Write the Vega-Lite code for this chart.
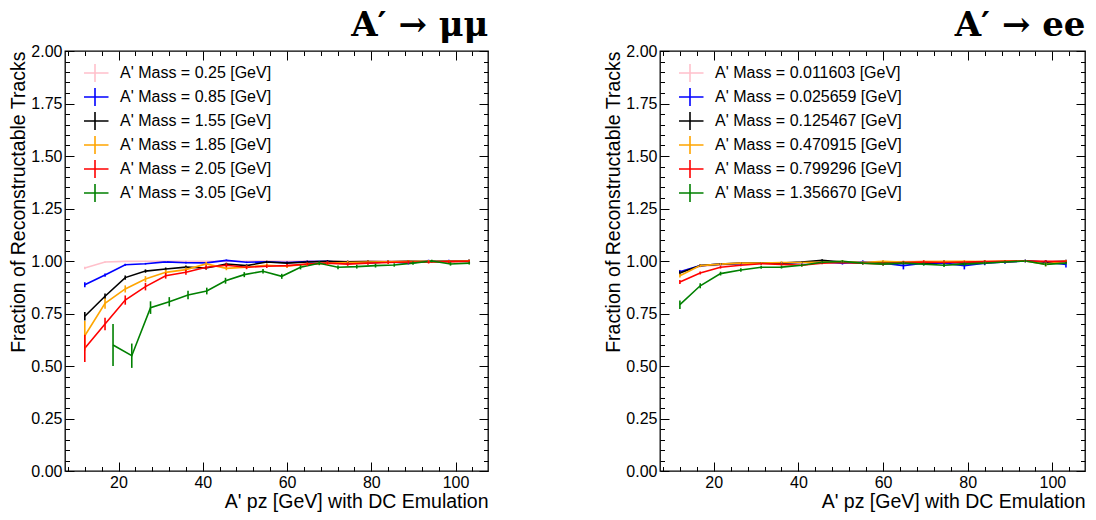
{
  "$schema": "https://vega.github.io/schema/vega-lite/v6.json",
  "background": "white",
  "padding": {"left": 8, "top": 8, "right": 4, "bottom": 4},
  "spacing": 113,
  "resolve": {"scale": {"color": "independent"}, "legend": {"color": "independent"}},
  "config": {
    "font": "Liberation Sans",
    "view": {"stroke": "black", "strokeWidth": 1.3},
    "axis": {"grid": false, "domain": false, "tickColor": "black", "labelColor": "black", "titleColor": "black", "labelFontSize": 16, "titleFontSize": 19.5, "titleFontWeight": "normal", "tickWidth": 1},
    "legend": {"labelFontSize": 16, "labelColor": "black", "labelLimit": 400}
  },
  "datasets": {
    "mumu": [
      {"m": "A' Mass = 0.25 [GeV]", "x": 12, "y": 0.967, "e": 0.006},
      {"m": "A' Mass = 0.25 [GeV]", "x": 16.8, "y": 0.995, "e": 0.003},
      {"m": "A' Mass = 0.25 [GeV]", "x": 21.6, "y": 0.998, "e": 0.002},
      {"m": "A' Mass = 0.25 [GeV]", "x": 26.4, "y": 0.999, "e": 0.002},
      {"m": "A' Mass = 0.25 [GeV]", "x": 31.2, "y": 0.998, "e": 0.002},
      {"m": "A' Mass = 0.25 [GeV]", "x": 36, "y": 0.999, "e": 0.002},
      {"m": "A' Mass = 0.25 [GeV]", "x": 40.8, "y": 0.998, "e": 0.002},
      {"m": "A' Mass = 0.25 [GeV]", "x": 45.6, "y": 0.999, "e": 0.002},
      {"m": "A' Mass = 0.25 [GeV]", "x": 50.4, "y": 0.999, "e": 0.002},
      {"m": "A' Mass = 0.25 [GeV]", "x": 55.2, "y": 1.0, "e": 0.002},
      {"m": "A' Mass = 0.25 [GeV]", "x": 60, "y": 0.999, "e": 0.002},
      {"m": "A' Mass = 0.25 [GeV]", "x": 64.8, "y": 1.0, "e": 0.002},
      {"m": "A' Mass = 0.25 [GeV]", "x": 69.6, "y": 1.0, "e": 0.002},
      {"m": "A' Mass = 0.25 [GeV]", "x": 74.4, "y": 0.999, "e": 0.002},
      {"m": "A' Mass = 0.25 [GeV]", "x": 79.2, "y": 1.0, "e": 0.002},
      {"m": "A' Mass = 0.25 [GeV]", "x": 84, "y": 1.0, "e": 0.002},
      {"m": "A' Mass = 0.25 [GeV]", "x": 88.8, "y": 1.0, "e": 0.002},
      {"m": "A' Mass = 0.25 [GeV]", "x": 93.6, "y": 1.0, "e": 0.002},
      {"m": "A' Mass = 0.25 [GeV]", "x": 98.4, "y": 1.0, "e": 0.002},
      {"m": "A' Mass = 0.25 [GeV]", "x": 103.2, "y": 1.0, "e": 0.002},
      {"m": "A' Mass = 0.85 [GeV]", "x": 12, "y": 0.887, "e": 0.012},
      {"m": "A' Mass = 0.85 [GeV]", "x": 16.8, "y": 0.933, "e": 0.008},
      {"m": "A' Mass = 0.85 [GeV]", "x": 21.6, "y": 0.982, "e": 0.005},
      {"m": "A' Mass = 0.85 [GeV]", "x": 26.4, "y": 0.987, "e": 0.004},
      {"m": "A' Mass = 0.85 [GeV]", "x": 31.2, "y": 0.996, "e": 0.003},
      {"m": "A' Mass = 0.85 [GeV]", "x": 36, "y": 0.992, "e": 0.004},
      {"m": "A' Mass = 0.85 [GeV]", "x": 40.8, "y": 0.991, "e": 0.004},
      {"m": "A' Mass = 0.85 [GeV]", "x": 45.6, "y": 1.003, "e": 0.004},
      {"m": "A' Mass = 0.85 [GeV]", "x": 50.4, "y": 0.994, "e": 0.004},
      {"m": "A' Mass = 0.85 [GeV]", "x": 55.2, "y": 0.996, "e": 0.004},
      {"m": "A' Mass = 0.85 [GeV]", "x": 60, "y": 0.993, "e": 0.005},
      {"m": "A' Mass = 0.85 [GeV]", "x": 64.8, "y": 0.997, "e": 0.005},
      {"m": "A' Mass = 0.85 [GeV]", "x": 69.6, "y": 0.999, "e": 0.005},
      {"m": "A' Mass = 0.85 [GeV]", "x": 74.4, "y": 0.99, "e": 0.006},
      {"m": "A' Mass = 0.85 [GeV]", "x": 79.2, "y": 0.99, "e": 0.006},
      {"m": "A' Mass = 0.85 [GeV]", "x": 84, "y": 0.997, "e": 0.006},
      {"m": "A' Mass = 0.85 [GeV]", "x": 88.8, "y": 0.99, "e": 0.006},
      {"m": "A' Mass = 0.85 [GeV]", "x": 93.6, "y": 1.0, "e": 0.006},
      {"m": "A' Mass = 0.85 [GeV]", "x": 98.4, "y": 0.999, "e": 0.007},
      {"m": "A' Mass = 0.85 [GeV]", "x": 103.2, "y": 1.0, "e": 0.007},
      {"m": "A' Mass = 1.55 [GeV]", "x": 12, "y": 0.737, "e": 0.02},
      {"m": "A' Mass = 1.55 [GeV]", "x": 16.8, "y": 0.832, "e": 0.013},
      {"m": "A' Mass = 1.55 [GeV]", "x": 21.6, "y": 0.921, "e": 0.01},
      {"m": "A' Mass = 1.55 [GeV]", "x": 26.4, "y": 0.952, "e": 0.008},
      {"m": "A' Mass = 1.55 [GeV]", "x": 31.2, "y": 0.962, "e": 0.007},
      {"m": "A' Mass = 1.55 [GeV]", "x": 36, "y": 0.971, "e": 0.007},
      {"m": "A' Mass = 1.55 [GeV]", "x": 40.8, "y": 0.967, "e": 0.007},
      {"m": "A' Mass = 1.55 [GeV]", "x": 45.6, "y": 0.986, "e": 0.006},
      {"m": "A' Mass = 1.55 [GeV]", "x": 50.4, "y": 0.978, "e": 0.006},
      {"m": "A' Mass = 1.55 [GeV]", "x": 55.2, "y": 0.995, "e": 0.006},
      {"m": "A' Mass = 1.55 [GeV]", "x": 60, "y": 0.99, "e": 0.006},
      {"m": "A' Mass = 1.55 [GeV]", "x": 64.8, "y": 0.995, "e": 0.006},
      {"m": "A' Mass = 1.55 [GeV]", "x": 69.6, "y": 0.998, "e": 0.006},
      {"m": "A' Mass = 1.55 [GeV]", "x": 74.4, "y": 0.996, "e": 0.006},
      {"m": "A' Mass = 1.55 [GeV]", "x": 79.2, "y": 0.997, "e": 0.006},
      {"m": "A' Mass = 1.55 [GeV]", "x": 84, "y": 0.996, "e": 0.006},
      {"m": "A' Mass = 1.55 [GeV]", "x": 88.8, "y": 0.998, "e": 0.006},
      {"m": "A' Mass = 1.55 [GeV]", "x": 93.6, "y": 0.997, "e": 0.006},
      {"m": "A' Mass = 1.55 [GeV]", "x": 98.4, "y": 0.998, "e": 0.006},
      {"m": "A' Mass = 1.55 [GeV]", "x": 103.2, "y": 1.0, "e": 0.006},
      {"m": "A' Mass = 1.85 [GeV]", "x": 12, "y": 0.644, "e": 0.07},
      {"m": "A' Mass = 1.85 [GeV]", "x": 16.8, "y": 0.798, "e": 0.025},
      {"m": "A' Mass = 1.85 [GeV]", "x": 21.6, "y": 0.867, "e": 0.017},
      {"m": "A' Mass = 1.85 [GeV]", "x": 26.4, "y": 0.914, "e": 0.014},
      {"m": "A' Mass = 1.85 [GeV]", "x": 31.2, "y": 0.946, "e": 0.012},
      {"m": "A' Mass = 1.85 [GeV]", "x": 36, "y": 0.959, "e": 0.01},
      {"m": "A' Mass = 1.85 [GeV]", "x": 40.8, "y": 0.986, "e": 0.009},
      {"m": "A' Mass = 1.85 [GeV]", "x": 45.6, "y": 0.965, "e": 0.009},
      {"m": "A' Mass = 1.85 [GeV]", "x": 50.4, "y": 0.971, "e": 0.008},
      {"m": "A' Mass = 1.85 [GeV]", "x": 55.2, "y": 0.98, "e": 0.008},
      {"m": "A' Mass = 1.85 [GeV]", "x": 60, "y": 0.975, "e": 0.008},
      {"m": "A' Mass = 1.85 [GeV]", "x": 64.8, "y": 0.985, "e": 0.007},
      {"m": "A' Mass = 1.85 [GeV]", "x": 69.6, "y": 0.99, "e": 0.007},
      {"m": "A' Mass = 1.85 [GeV]", "x": 74.4, "y": 0.993, "e": 0.007},
      {"m": "A' Mass = 1.85 [GeV]", "x": 79.2, "y": 0.995, "e": 0.007},
      {"m": "A' Mass = 1.85 [GeV]", "x": 84, "y": 0.996, "e": 0.007},
      {"m": "A' Mass = 1.85 [GeV]", "x": 88.8, "y": 0.997, "e": 0.007},
      {"m": "A' Mass = 1.85 [GeV]", "x": 93.6, "y": 0.998, "e": 0.007},
      {"m": "A' Mass = 1.85 [GeV]", "x": 98.4, "y": 0.998, "e": 0.007},
      {"m": "A' Mass = 1.85 [GeV]", "x": 103.2, "y": 1.0, "e": 0.007},
      {"m": "A' Mass = 2.05 [GeV]", "x": 12, "y": 0.584, "e": 0.065},
      {"m": "A' Mass = 2.05 [GeV]", "x": 16.8, "y": 0.70, "e": 0.03},
      {"m": "A' Mass = 2.05 [GeV]", "x": 21.6, "y": 0.814, "e": 0.022},
      {"m": "A' Mass = 2.05 [GeV]", "x": 26.4, "y": 0.878, "e": 0.018},
      {"m": "A' Mass = 2.05 [GeV]", "x": 31.2, "y": 0.93, "e": 0.014},
      {"m": "A' Mass = 2.05 [GeV]", "x": 36, "y": 0.946, "e": 0.012},
      {"m": "A' Mass = 2.05 [GeV]", "x": 40.8, "y": 0.97, "e": 0.01},
      {"m": "A' Mass = 2.05 [GeV]", "x": 45.6, "y": 0.98, "e": 0.01},
      {"m": "A' Mass = 2.05 [GeV]", "x": 50.4, "y": 0.97, "e": 0.009},
      {"m": "A' Mass = 2.05 [GeV]", "x": 55.2, "y": 0.975, "e": 0.008},
      {"m": "A' Mass = 2.05 [GeV]", "x": 60, "y": 0.978, "e": 0.008},
      {"m": "A' Mass = 2.05 [GeV]", "x": 64.8, "y": 0.985, "e": 0.008},
      {"m": "A' Mass = 2.05 [GeV]", "x": 69.6, "y": 0.99, "e": 0.008},
      {"m": "A' Mass = 2.05 [GeV]", "x": 74.4, "y": 0.985, "e": 0.008},
      {"m": "A' Mass = 2.05 [GeV]", "x": 79.2, "y": 0.99, "e": 0.008},
      {"m": "A' Mass = 2.05 [GeV]", "x": 84, "y": 0.993, "e": 0.007},
      {"m": "A' Mass = 2.05 [GeV]", "x": 88.8, "y": 0.995, "e": 0.007},
      {"m": "A' Mass = 2.05 [GeV]", "x": 93.6, "y": 0.995, "e": 0.007},
      {"m": "A' Mass = 2.05 [GeV]", "x": 98.4, "y": 0.997, "e": 0.007},
      {"m": "A' Mass = 2.05 [GeV]", "x": 103.2, "y": 0.998, "e": 0.007},
      {"m": "A' Mass = 3.05 [GeV]", "x": 18.7, "y": 0.60, "e": 0.1},
      {"m": "A' Mass = 3.05 [GeV]", "x": 23.15, "y": 0.549, "e": 0.058},
      {"m": "A' Mass = 3.05 [GeV]", "x": 27.6, "y": 0.778, "e": 0.03},
      {"m": "A' Mass = 3.05 [GeV]", "x": 32.05, "y": 0.806, "e": 0.022},
      {"m": "A' Mass = 3.05 [GeV]", "x": 36.5, "y": 0.838, "e": 0.02},
      {"m": "A' Mass = 3.05 [GeV]", "x": 40.95, "y": 0.857, "e": 0.016},
      {"m": "A' Mass = 3.05 [GeV]", "x": 45.4, "y": 0.906, "e": 0.014},
      {"m": "A' Mass = 3.05 [GeV]", "x": 49.85, "y": 0.935, "e": 0.012},
      {"m": "A' Mass = 3.05 [GeV]", "x": 54.3, "y": 0.951, "e": 0.011},
      {"m": "A' Mass = 3.05 [GeV]", "x": 58.75, "y": 0.927, "e": 0.012},
      {"m": "A' Mass = 3.05 [GeV]", "x": 63.2, "y": 0.97, "e": 0.01},
      {"m": "A' Mass = 3.05 [GeV]", "x": 67.65, "y": 0.989, "e": 0.009},
      {"m": "A' Mass = 3.05 [GeV]", "x": 72.1, "y": 0.97, "e": 0.009},
      {"m": "A' Mass = 3.05 [GeV]", "x": 76.55, "y": 0.973, "e": 0.009},
      {"m": "A' Mass = 3.05 [GeV]", "x": 81.0, "y": 0.978, "e": 0.009},
      {"m": "A' Mass = 3.05 [GeV]", "x": 85.45, "y": 0.981, "e": 0.008},
      {"m": "A' Mass = 3.05 [GeV]", "x": 89.9, "y": 0.99, "e": 0.008},
      {"m": "A' Mass = 3.05 [GeV]", "x": 94.35, "y": 1.0, "e": 0.006},
      {"m": "A' Mass = 3.05 [GeV]", "x": 98.8, "y": 0.986, "e": 0.008},
      {"m": "A' Mass = 3.05 [GeV]", "x": 103.25, "y": 0.99, "e": 0.007}
    ],
    "ee": [
      {"m": "A' Mass = 0.011603 [GeV]", "x": 12, "y": 0.95, "e": 0.008},
      {"m": "A' Mass = 0.011603 [GeV]", "x": 16.8, "y": 0.975, "e": 0.006},
      {"m": "A' Mass = 0.011603 [GeV]", "x": 21.6, "y": 0.98, "e": 0.005},
      {"m": "A' Mass = 0.011603 [GeV]", "x": 26.4, "y": 0.985, "e": 0.005},
      {"m": "A' Mass = 0.011603 [GeV]", "x": 31.2, "y": 0.99, "e": 0.005},
      {"m": "A' Mass = 0.011603 [GeV]", "x": 36, "y": 0.99, "e": 0.005},
      {"m": "A' Mass = 0.011603 [GeV]", "x": 40.8, "y": 0.992, "e": 0.005},
      {"m": "A' Mass = 0.011603 [GeV]", "x": 45.6, "y": 0.995, "e": 0.005},
      {"m": "A' Mass = 0.011603 [GeV]", "x": 50.4, "y": 0.993, "e": 0.005},
      {"m": "A' Mass = 0.011603 [GeV]", "x": 55.2, "y": 0.995, "e": 0.006},
      {"m": "A' Mass = 0.011603 [GeV]", "x": 60, "y": 0.995, "e": 0.006},
      {"m": "A' Mass = 0.011603 [GeV]", "x": 64.8, "y": 0.997, "e": 0.006},
      {"m": "A' Mass = 0.011603 [GeV]", "x": 69.6, "y": 0.998, "e": 0.006},
      {"m": "A' Mass = 0.011603 [GeV]", "x": 74.4, "y": 0.995, "e": 0.007},
      {"m": "A' Mass = 0.011603 [GeV]", "x": 79.2, "y": 0.996, "e": 0.007},
      {"m": "A' Mass = 0.011603 [GeV]", "x": 84, "y": 0.99, "e": 0.01},
      {"m": "A' Mass = 0.011603 [GeV]", "x": 88.8, "y": 0.998, "e": 0.007},
      {"m": "A' Mass = 0.011603 [GeV]", "x": 93.6, "y": 1.0, "e": 0.006},
      {"m": "A' Mass = 0.011603 [GeV]", "x": 98.4, "y": 0.985, "e": 0.012},
      {"m": "A' Mass = 0.011603 [GeV]", "x": 103.2, "y": 0.998, "e": 0.008},
      {"m": "A' Mass = 0.025659 [GeV]", "x": 12, "y": 0.949, "e": 0.008},
      {"m": "A' Mass = 0.025659 [GeV]", "x": 16.8, "y": 0.978, "e": 0.006},
      {"m": "A' Mass = 0.025659 [GeV]", "x": 21.6, "y": 0.985, "e": 0.005},
      {"m": "A' Mass = 0.025659 [GeV]", "x": 26.4, "y": 0.987, "e": 0.005},
      {"m": "A' Mass = 0.025659 [GeV]", "x": 31.2, "y": 0.99, "e": 0.005},
      {"m": "A' Mass = 0.025659 [GeV]", "x": 36, "y": 0.99, "e": 0.006},
      {"m": "A' Mass = 0.025659 [GeV]", "x": 40.8, "y": 0.993, "e": 0.006},
      {"m": "A' Mass = 0.025659 [GeV]", "x": 45.6, "y": 0.995, "e": 0.006},
      {"m": "A' Mass = 0.025659 [GeV]", "x": 50.4, "y": 0.99, "e": 0.007},
      {"m": "A' Mass = 0.025659 [GeV]", "x": 55.2, "y": 0.995, "e": 0.008},
      {"m": "A' Mass = 0.025659 [GeV]", "x": 60, "y": 0.99, "e": 0.01},
      {"m": "A' Mass = 0.025659 [GeV]", "x": 64.8, "y": 0.978, "e": 0.018},
      {"m": "A' Mass = 0.025659 [GeV]", "x": 69.6, "y": 0.99, "e": 0.01},
      {"m": "A' Mass = 0.025659 [GeV]", "x": 74.4, "y": 0.99, "e": 0.012},
      {"m": "A' Mass = 0.025659 [GeV]", "x": 79.2, "y": 0.978, "e": 0.018},
      {"m": "A' Mass = 0.025659 [GeV]", "x": 84, "y": 0.99, "e": 0.01},
      {"m": "A' Mass = 0.025659 [GeV]", "x": 88.8, "y": 0.995, "e": 0.008},
      {"m": "A' Mass = 0.025659 [GeV]", "x": 93.6, "y": 1.0, "e": 0.006},
      {"m": "A' Mass = 0.025659 [GeV]", "x": 98.4, "y": 0.995, "e": 0.008},
      {"m": "A' Mass = 0.025659 [GeV]", "x": 103.2, "y": 0.984, "e": 0.015},
      {"m": "A' Mass = 0.125467 [GeV]", "x": 12, "y": 0.943, "e": 0.008},
      {"m": "A' Mass = 0.125467 [GeV]", "x": 16.8, "y": 0.978, "e": 0.006},
      {"m": "A' Mass = 0.125467 [GeV]", "x": 21.6, "y": 0.985, "e": 0.005},
      {"m": "A' Mass = 0.125467 [GeV]", "x": 26.4, "y": 0.99, "e": 0.005},
      {"m": "A' Mass = 0.125467 [GeV]", "x": 31.2, "y": 0.99, "e": 0.005},
      {"m": "A' Mass = 0.125467 [GeV]", "x": 36, "y": 0.99, "e": 0.005},
      {"m": "A' Mass = 0.125467 [GeV]", "x": 40.8, "y": 0.995, "e": 0.005},
      {"m": "A' Mass = 0.125467 [GeV]", "x": 45.6, "y": 1.003, "e": 0.005},
      {"m": "A' Mass = 0.125467 [GeV]", "x": 50.4, "y": 0.995, "e": 0.006},
      {"m": "A' Mass = 0.125467 [GeV]", "x": 55.2, "y": 0.99, "e": 0.006},
      {"m": "A' Mass = 0.125467 [GeV]", "x": 60, "y": 0.995, "e": 0.006},
      {"m": "A' Mass = 0.125467 [GeV]", "x": 64.8, "y": 0.993, "e": 0.007},
      {"m": "A' Mass = 0.125467 [GeV]", "x": 69.6, "y": 0.99, "e": 0.007},
      {"m": "A' Mass = 0.125467 [GeV]", "x": 74.4, "y": 0.995, "e": 0.007},
      {"m": "A' Mass = 0.125467 [GeV]", "x": 79.2, "y": 0.99, "e": 0.008},
      {"m": "A' Mass = 0.125467 [GeV]", "x": 84, "y": 0.995, "e": 0.008},
      {"m": "A' Mass = 0.125467 [GeV]", "x": 88.8, "y": 0.997, "e": 0.007},
      {"m": "A' Mass = 0.125467 [GeV]", "x": 93.6, "y": 1.0, "e": 0.006},
      {"m": "A' Mass = 0.125467 [GeV]", "x": 98.4, "y": 0.995, "e": 0.008},
      {"m": "A' Mass = 0.125467 [GeV]", "x": 103.2, "y": 0.998, "e": 0.008},
      {"m": "A' Mass = 0.470915 [GeV]", "x": 12, "y": 0.93, "e": 0.009},
      {"m": "A' Mass = 0.470915 [GeV]", "x": 16.8, "y": 0.978, "e": 0.006},
      {"m": "A' Mass = 0.470915 [GeV]", "x": 21.6, "y": 0.985, "e": 0.005},
      {"m": "A' Mass = 0.470915 [GeV]", "x": 26.4, "y": 0.99, "e": 0.005},
      {"m": "A' Mass = 0.470915 [GeV]", "x": 31.2, "y": 0.99, "e": 0.005},
      {"m": "A' Mass = 0.470915 [GeV]", "x": 36, "y": 0.993, "e": 0.005},
      {"m": "A' Mass = 0.470915 [GeV]", "x": 40.8, "y": 0.993, "e": 0.005},
      {"m": "A' Mass = 0.470915 [GeV]", "x": 45.6, "y": 0.995, "e": 0.005},
      {"m": "A' Mass = 0.470915 [GeV]", "x": 50.4, "y": 0.997, "e": 0.005},
      {"m": "A' Mass = 0.470915 [GeV]", "x": 55.2, "y": 0.993, "e": 0.006},
      {"m": "A' Mass = 0.470915 [GeV]", "x": 60, "y": 0.998, "e": 0.006},
      {"m": "A' Mass = 0.470915 [GeV]", "x": 64.8, "y": 0.995, "e": 0.006},
      {"m": "A' Mass = 0.470915 [GeV]", "x": 69.6, "y": 0.997, "e": 0.006},
      {"m": "A' Mass = 0.470915 [GeV]", "x": 74.4, "y": 0.998, "e": 0.006},
      {"m": "A' Mass = 0.470915 [GeV]", "x": 79.2, "y": 0.998, "e": 0.006},
      {"m": "A' Mass = 0.470915 [GeV]", "x": 84, "y": 0.997, "e": 0.006},
      {"m": "A' Mass = 0.470915 [GeV]", "x": 88.8, "y": 1.0, "e": 0.005},
      {"m": "A' Mass = 0.470915 [GeV]", "x": 93.6, "y": 1.0, "e": 0.005},
      {"m": "A' Mass = 0.470915 [GeV]", "x": 98.4, "y": 0.985, "e": 0.01},
      {"m": "A' Mass = 0.470915 [GeV]", "x": 103.2, "y": 1.0, "e": 0.005},
      {"m": "A' Mass = 0.799296 [GeV]", "x": 12, "y": 0.90, "e": 0.01},
      {"m": "A' Mass = 0.799296 [GeV]", "x": 16.8, "y": 0.943, "e": 0.007},
      {"m": "A' Mass = 0.799296 [GeV]", "x": 21.6, "y": 0.97, "e": 0.006},
      {"m": "A' Mass = 0.799296 [GeV]", "x": 26.4, "y": 0.98, "e": 0.005},
      {"m": "A' Mass = 0.799296 [GeV]", "x": 31.2, "y": 0.987, "e": 0.005},
      {"m": "A' Mass = 0.799296 [GeV]", "x": 36, "y": 0.984, "e": 0.005},
      {"m": "A' Mass = 0.799296 [GeV]", "x": 40.8, "y": 0.98, "e": 0.006},
      {"m": "A' Mass = 0.799296 [GeV]", "x": 45.6, "y": 0.99, "e": 0.006},
      {"m": "A' Mass = 0.799296 [GeV]", "x": 50.4, "y": 0.993, "e": 0.006},
      {"m": "A' Mass = 0.799296 [GeV]", "x": 55.2, "y": 0.99, "e": 0.006},
      {"m": "A' Mass = 0.799296 [GeV]", "x": 60, "y": 0.986, "e": 0.008},
      {"m": "A' Mass = 0.799296 [GeV]", "x": 64.8, "y": 0.993, "e": 0.006},
      {"m": "A' Mass = 0.799296 [GeV]", "x": 69.6, "y": 0.995, "e": 0.008},
      {"m": "A' Mass = 0.799296 [GeV]", "x": 74.4, "y": 0.993, "e": 0.006},
      {"m": "A' Mass = 0.799296 [GeV]", "x": 79.2, "y": 0.995, "e": 0.006},
      {"m": "A' Mass = 0.799296 [GeV]", "x": 84, "y": 0.997, "e": 0.006},
      {"m": "A' Mass = 0.799296 [GeV]", "x": 88.8, "y": 0.998, "e": 0.006},
      {"m": "A' Mass = 0.799296 [GeV]", "x": 93.6, "y": 1.0, "e": 0.005},
      {"m": "A' Mass = 0.799296 [GeV]", "x": 98.4, "y": 0.998, "e": 0.006},
      {"m": "A' Mass = 0.799296 [GeV]", "x": 103.2, "y": 0.998, "e": 0.006},
      {"m": "A' Mass = 1.356670 [GeV]", "x": 12, "y": 0.792, "e": 0.02},
      {"m": "A' Mass = 1.356670 [GeV]", "x": 16.8, "y": 0.882, "e": 0.012},
      {"m": "A' Mass = 1.356670 [GeV]", "x": 21.6, "y": 0.94, "e": 0.009},
      {"m": "A' Mass = 1.356670 [GeV]", "x": 26.4, "y": 0.957, "e": 0.008},
      {"m": "A' Mass = 1.356670 [GeV]", "x": 31.2, "y": 0.97, "e": 0.007},
      {"m": "A' Mass = 1.356670 [GeV]", "x": 36, "y": 0.971, "e": 0.007},
      {"m": "A' Mass = 1.356670 [GeV]", "x": 40.8, "y": 0.98, "e": 0.006},
      {"m": "A' Mass = 1.356670 [GeV]", "x": 45.6, "y": 0.994, "e": 0.006},
      {"m": "A' Mass = 1.356670 [GeV]", "x": 50.4, "y": 0.998, "e": 0.006},
      {"m": "A' Mass = 1.356670 [GeV]", "x": 55.2, "y": 0.99, "e": 0.006},
      {"m": "A' Mass = 1.356670 [GeV]", "x": 60, "y": 0.985, "e": 0.007},
      {"m": "A' Mass = 1.356670 [GeV]", "x": 64.8, "y": 0.99, "e": 0.007},
      {"m": "A' Mass = 1.356670 [GeV]", "x": 69.6, "y": 0.985, "e": 0.007},
      {"m": "A' Mass = 1.356670 [GeV]", "x": 74.4, "y": 0.98, "e": 0.009},
      {"m": "A' Mass = 1.356670 [GeV]", "x": 79.2, "y": 0.985, "e": 0.008},
      {"m": "A' Mass = 1.356670 [GeV]", "x": 84, "y": 0.99, "e": 0.007},
      {"m": "A' Mass = 1.356670 [GeV]", "x": 88.8, "y": 0.995, "e": 0.006},
      {"m": "A' Mass = 1.356670 [GeV]", "x": 93.6, "y": 1.0, "e": 0.005},
      {"m": "A' Mass = 1.356670 [GeV]", "x": 98.4, "y": 0.984, "e": 0.009},
      {"m": "A' Mass = 1.356670 [GeV]", "x": 103.2, "y": 0.99, "e": 0.007}
    ]
  },
  "hconcat": [
    {
      "width": 423,
      "height": 420,
      "title": {"text": "A′ → μμ", "anchor": "end", "font": "DejaVu Serif", "fontSize": 34, "fontWeight": "bold", "color": "black", "offset": 0},
      "data": {"name": "mumu"},
      "layer": [
        {
          "mark": {"type": "line", "strokeWidth": 1.6},
          "encoding": {
            "x": {"field": "x", "type": "quantitative", "scale": {"domain": [7.3, 107.7], "nice": false, "zero": false},
              "axis": {"orient": "bottom", "values": [8,12,16,20,24,28,32,36,40,44,48,52,56,60,64,68,72,76,80,84,88,92,96,100,104], "labelExpr": "datum.value % 20 === 0 ? datum.label : ''", "tickSize": {"condition": {"test": "datum.value % 20 === 0", "value": -9}, "value": -4.5}, "labelPadding": 12, "title": "A' pz [GeV] with DC Emulation", "titleAnchor": "end", "titlePadding": 2}},
            "y": {"field": "y", "type": "quantitative", "scale": {"domain": [0, 2], "nice": false},
              "axis": {"orient": "left", "values": [0,0.05,0.1,0.15,0.2,0.25,0.3,0.35,0.4,0.45,0.5,0.55,0.6,0.65,0.7,0.75,0.8,0.85,0.9,0.95,1,1.05,1.1,1.15,1.2,1.25,1.3,1.35,1.4,1.45,1.5,1.55,1.6,1.65,1.7,1.75,1.8,1.85,1.9,1.95,2], "format": ".2f", "labelExpr": "abs(datum.value*4 - round(datum.value*4)) < 0.001 ? datum.label : ''", "tickSize": {"condition": {"test": "abs(datum.value*4 - round(datum.value*4)) < 0.001", "value": -9}, "value": -4.5}, "labelPadding": 12, "title": "Fraction of Reconstructable Tracks", "titleAnchor": "end", "titlePadding": 2}},
            "color": {"field": "m", "type": "nominal", "title": null,
              "scale": {"domain": ["A' Mass = 0.25 [GeV]", "A' Mass = 0.85 [GeV]", "A' Mass = 1.55 [GeV]", "A' Mass = 1.85 [GeV]", "A' Mass = 2.05 [GeV]", "A' Mass = 3.05 [GeV]"], "range": ["#FFC0CB", "#0000FF", "#000000", "#FFA500", "#FF0000", "#008000"]},
              "legend": {"orient": "none", "legendX": 19, "legendY": 10.5, "symbolType": "M-1.35,0H1.35M0,-0.9V0.9", "symbolSize": 400, "symbolStrokeWidth": 1.6, "symbolFillColor": "transparent", "labelOffset": 14, "rowPadding": 0, "clipHeight": 23.1, "padding": 0}}
          }
        },
        {
          "mark": {"type": "errorbar", "thickness": 1.6},
          "encoding": {
            "x": {"field": "x", "type": "quantitative", "scale": {"domain": [7.3, 107.7], "nice": false, "zero": false},
              "axis": {"orient": "top", "values": [8,12,16,20,24,28,32,36,40,44,48,52,56,60,64,68,72,76,80,84,88,92,96,100,104], "labels": false, "tickSize": {"condition": {"test": "datum.value % 20 === 0", "value": -9}, "value": -4.5}, "title": null}},
            "y": {"field": "y", "type": "quantitative", "scale": {"domain": [0, 2], "nice": false},
              "axis": {"orient": "right", "values": [0,0.05,0.1,0.15,0.2,0.25,0.3,0.35,0.4,0.45,0.5,0.55,0.6,0.65,0.7,0.75,0.8,0.85,0.9,0.95,1,1.05,1.1,1.15,1.2,1.25,1.3,1.35,1.4,1.45,1.5,1.55,1.6,1.65,1.7,1.75,1.8,1.85,1.9,1.95,2], "labels": false, "tickSize": {"condition": {"test": "abs(datum.value*4 - round(datum.value*4)) < 0.001", "value": -9}, "value": -4.5}, "title": null}},
            "yError": {"field": "e"},
            "color": {"field": "m", "type": "nominal"}
          }
        }
      ],
      "resolve": {"axis": {"x": "independent", "y": "independent"}}
    },
    {
      "width": 425,
      "height": 420,
      "title": {"text": "A′ → ee", "anchor": "end", "font": "DejaVu Serif", "fontSize": 34, "fontWeight": "bold", "color": "black", "offset": 0},
      "data": {"name": "ee"},
      "layer": [
        {
          "mark": {"type": "line", "strokeWidth": 1.6},
          "encoding": {
            "x": {"field": "x", "type": "quantitative", "scale": {"domain": [7.3, 107.7], "nice": false, "zero": false},
              "axis": {"orient": "bottom", "values": [8,12,16,20,24,28,32,36,40,44,48,52,56,60,64,68,72,76,80,84,88,92,96,100,104], "labelExpr": "datum.value % 20 === 0 ? datum.label : ''", "tickSize": {"condition": {"test": "datum.value % 20 === 0", "value": -9}, "value": -4.5}, "labelPadding": 12, "title": "A' pz [GeV] with DC Emulation", "titleAnchor": "end", "titlePadding": 2}},
            "y": {"field": "y", "type": "quantitative", "scale": {"domain": [0, 2], "nice": false},
              "axis": {"orient": "left", "values": [0,0.05,0.1,0.15,0.2,0.25,0.3,0.35,0.4,0.45,0.5,0.55,0.6,0.65,0.7,0.75,0.8,0.85,0.9,0.95,1,1.05,1.1,1.15,1.2,1.25,1.3,1.35,1.4,1.45,1.5,1.55,1.6,1.65,1.7,1.75,1.8,1.85,1.9,1.95,2], "format": ".2f", "labelExpr": "abs(datum.value*4 - round(datum.value*4)) < 0.001 ? datum.label : ''", "tickSize": {"condition": {"test": "abs(datum.value*4 - round(datum.value*4)) < 0.001", "value": -9}, "value": -4.5}, "labelPadding": 12, "title": "Fraction of Reconstructable Tracks", "titleAnchor": "end", "titlePadding": 2}},
            "color": {"field": "m", "type": "nominal", "title": null,
              "scale": {"domain": ["A' Mass = 0.011603 [GeV]", "A' Mass = 0.025659 [GeV]", "A' Mass = 0.125467 [GeV]", "A' Mass = 0.470915 [GeV]", "A' Mass = 0.799296 [GeV]", "A' Mass = 1.356670 [GeV]"], "range": ["#FFC0CB", "#0000FF", "#000000", "#FFA500", "#FF0000", "#008000"]},
              "legend": {"orient": "none", "legendX": 19, "legendY": 10.5, "symbolType": "M-1.35,0H1.35M0,-0.9V0.9", "symbolSize": 400, "symbolStrokeWidth": 1.6, "symbolFillColor": "transparent", "labelOffset": 14, "rowPadding": 0, "clipHeight": 23.1, "padding": 0}}
          }
        },
        {
          "mark": {"type": "errorbar", "thickness": 1.6},
          "encoding": {
            "x": {"field": "x", "type": "quantitative", "scale": {"domain": [7.3, 107.7], "nice": false, "zero": false},
              "axis": {"orient": "top", "values": [8,12,16,20,24,28,32,36,40,44,48,52,56,60,64,68,72,76,80,84,88,92,96,100,104], "labels": false, "tickSize": {"condition": {"test": "datum.value % 20 === 0", "value": -9}, "value": -4.5}, "title": null}},
            "y": {"field": "y", "type": "quantitative", "scale": {"domain": [0, 2], "nice": false},
              "axis": {"orient": "right", "values": [0,0.05,0.1,0.15,0.2,0.25,0.3,0.35,0.4,0.45,0.5,0.55,0.6,0.65,0.7,0.75,0.8,0.85,0.9,0.95,1,1.05,1.1,1.15,1.2,1.25,1.3,1.35,1.4,1.45,1.5,1.55,1.6,1.65,1.7,1.75,1.8,1.85,1.9,1.95,2], "labels": false, "tickSize": {"condition": {"test": "abs(datum.value*4 - round(datum.value*4)) < 0.001", "value": -9}, "value": -4.5}, "title": null}},
            "yError": {"field": "e"},
            "color": {"field": "m", "type": "nominal"}
          }
        }
      ],
      "resolve": {"axis": {"x": "independent", "y": "independent"}}
    }
  ]
}
